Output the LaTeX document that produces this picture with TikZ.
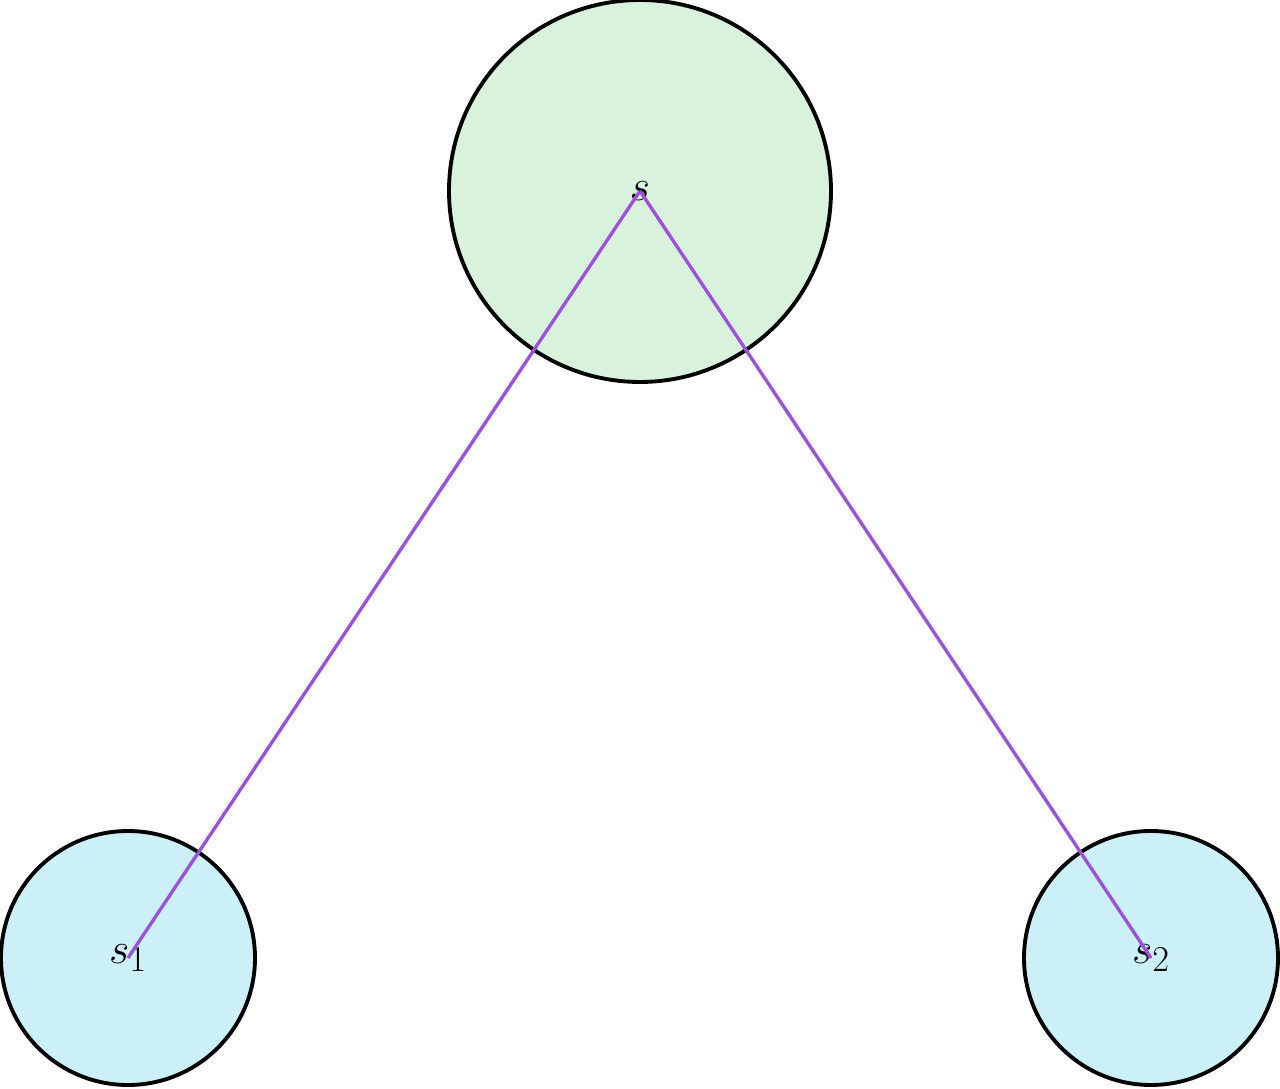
\documentclass[tikz,border=0pt]{standalone}
\usetikzlibrary{positioning}
\definecolor{rootfill}{RGB}{216,242,220}
\definecolor{leaffill}{RGB}{204,240,247}
\definecolor{edgecol}{RGB}{155,80,222}
\begin{document}
\begin{tikzpicture}[
		state/.style={circle, draw, line width=2.2pt, inner sep=0pt, font=\Huge},
		root/.style={state, fill=rootfill, minimum size=7.64cm},
		leaf/.style={state, fill=leaffill, minimum size=5.08cm},
		link/.style={draw=edgecol, line width=1.9pt},
	]
		\useasboundingbox (0,0) rectangle (25.6,21.76);
		\node (s) [root] at (12.8,17.94) {$s$};
		\node (s1) [leaf] at (2.56,2.6) {$s_1$};
		\node (s2) [leaf] at (23.02,2.6) {$s_2$};
		
		\draw[link] (s.center) -- (s1.center);
		\draw[link] (s.center) -- (s2.center);
	\end{tikzpicture}
\end{document}
